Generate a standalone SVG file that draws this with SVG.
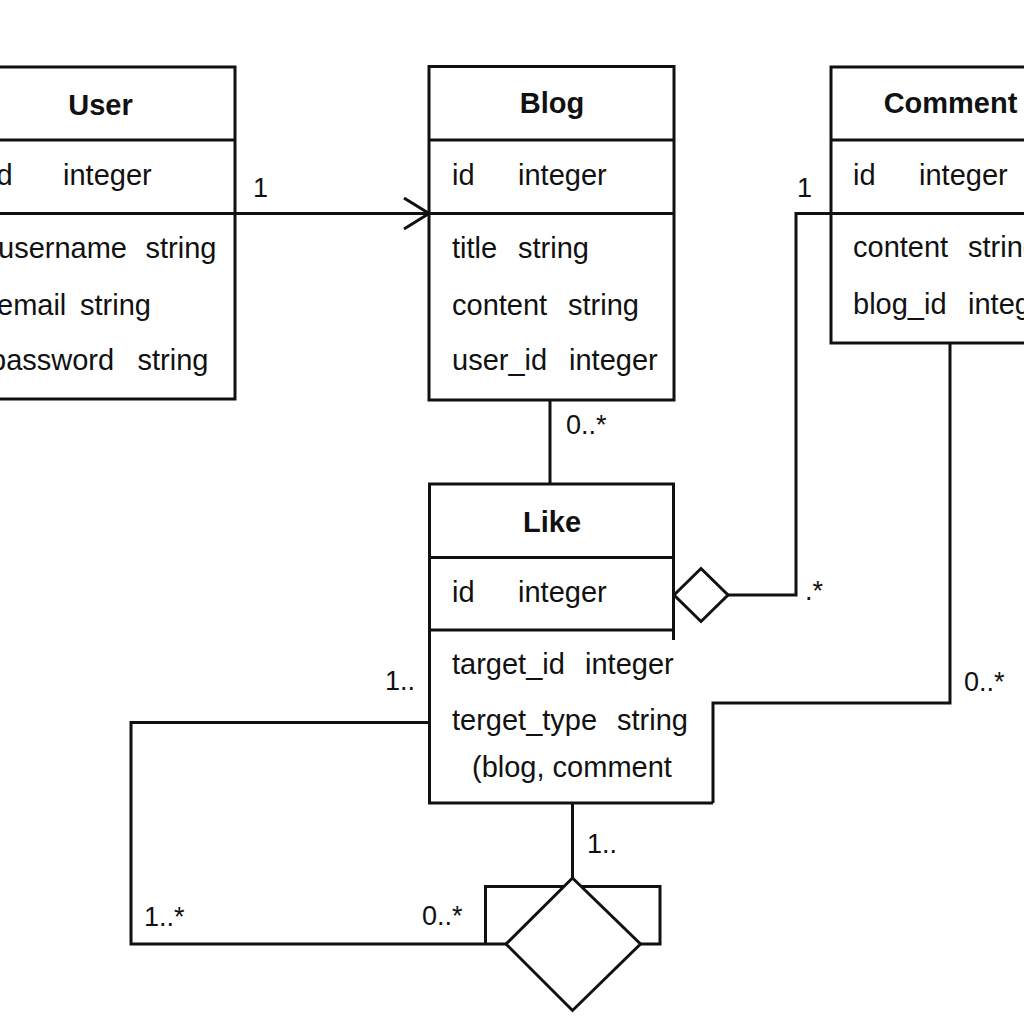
<svg xmlns="http://www.w3.org/2000/svg" width="1024" height="1024" viewBox="0 0 1024 1024">
<defs>
<style>
.box{fill:#fff;stroke:#111;stroke-width:3}
.ln{fill:none;stroke:#111;stroke-width:3}
.dia{fill:#fff;stroke:#111;stroke-width:3;stroke-linejoin:miter}
.hd{font-family:"Liberation Sans",Arial,sans-serif;font-weight:bold;font-size:29px;fill:#111;text-anchor:middle}
.at{font-family:"Liberation Sans",Arial,sans-serif;font-size:29px;fill:#111}
.lb{font-family:"Liberation Sans",Arial,sans-serif;font-size:27px;fill:#111}
</style>
<marker id="open" markerUnits="userSpaceOnUse" markerWidth="32" markerHeight="36" refX="26" refY="17" orient="auto">
<path d="M1,1.5 L26,17 L1,32.5" fill="none" stroke="#111" stroke-width="3"/>
</marker>
</defs>
<rect width="1024" height="1024" fill="#fff"/>

<g id="connectors">
<line class="ln" x1="235" y1="213.5" x2="429" y2="213.5" marker-end="url(#open)"/>
<line class="ln" x1="550" y1="400" x2="550" y2="484"/>
<polyline class="ln" points="831,213.5 796,213.5 796,595 728,595"/>
<polyline class="ln" points="950,343 950,703 713,703 713,803"/>
<polyline class="ln" points="429,722.5 131,722.5 131,944 506,944"/>
<line class="ln" x1="572.5" y1="803" x2="572.5" y2="878"/>
<polyline class="ln" points="485.5,944 485.5,886.5 660,886.5 660,944 640.5,944"/>
<polygon class="dia" points="674,595 701,568.5 728,595 701,621.5"/>
<polygon class="dia" points="572.5,878 506,944 572.5,1010.5 640.5,944"/>
<text class="lb" x="253" y="197">1</text>
<text class="lb" x="566" y="434">0..*</text>
<text class="lb" x="797" y="197">1</text>
<text class="lb" x="805" y="600">.*</text>
<text class="lb" x="964" y="691">0..*</text>
<text class="lb" x="385" y="690">1..</text>
<text class="lb" x="144" y="926">1..*</text>
<text class="lb" x="422" y="925">0..*</text>
<text class="lb" x="587" y="853">1..</text>
</g>

<g id="user">
<rect class="box" x="-40" y="67" width="275" height="332"/>
<line class="ln" x1="-40" y1="140" x2="235" y2="140"/>
<line class="ln" x1="-40" y1="213.5" x2="235" y2="213.5"/>
<text class="hd" x="100.5" y="115">User</text>
<text class="at" y="185"><tspan x="-10">id </tspan><tspan x="63">integer</tspan></text>
<text class="at" y="258"><tspan x="-2">username </tspan><tspan x="145.5">string</tspan></text>
<text class="at" y="315"><tspan x="-3">email </tspan><tspan x="80">string</tspan></text>
<text class="at" y="370"><tspan x="-10">password </tspan><tspan x="137.5">string</tspan></text>
</g>

<g id="blog">
<rect class="box" x="429" y="66.5" width="245" height="333.5"/>
<line class="ln" x1="429" y1="140" x2="674" y2="140"/>
<line class="ln" x1="429" y1="213.5" x2="674" y2="213.5"/>
<text class="hd" x="552" y="113">Blog</text>
<text class="at" y="185"><tspan x="452">id </tspan><tspan x="518">integer</tspan></text>
<text class="at" y="258"><tspan x="452">title </tspan><tspan x="518">string</tspan></text>
<text class="at" y="315"><tspan x="452">content </tspan><tspan x="568">string</tspan></text>
<text class="at" y="370"><tspan x="452">user_id </tspan><tspan x="569">integer</tspan></text>
</g>

<g id="comment">
<rect class="box" x="831" y="67" width="240" height="276"/>
<line class="ln" x1="831" y1="140" x2="1071" y2="140"/>
<line class="ln" x1="831" y1="213.5" x2="1071" y2="213.5"/>
<text class="hd" x="950.5" y="113">Comment</text>
<text class="at" y="185"><tspan x="853">id </tspan><tspan x="919">integer</tspan></text>
<text class="at" y="257"><tspan x="853">content </tspan><tspan x="968">string</tspan></text>
<text class="at" y="314"><tspan x="853">blog_id </tspan><tspan x="968">integer</tspan></text>
</g>

<g id="like">
<path class="ln" d="M673.5,640 V484 H429.5 V803 H713"/>
<line class="ln" x1="429.5" y1="557.5" x2="673.5" y2="557.5"/>
<line class="ln" x1="429.5" y1="630" x2="673.5" y2="630"/>
<text class="hd" x="552" y="532">Like</text>
<text class="at" y="602"><tspan x="452">id </tspan><tspan x="518">integer</tspan></text>
<text class="at" y="674"><tspan x="452">target_id </tspan><tspan x="585">integer</tspan></text>
<text class="at" y="730"><tspan x="452">terget_type </tspan><tspan x="617">string</tspan></text>
<text class="at" x="472" y="777">(blog, comment</text>
</g>
</svg>
